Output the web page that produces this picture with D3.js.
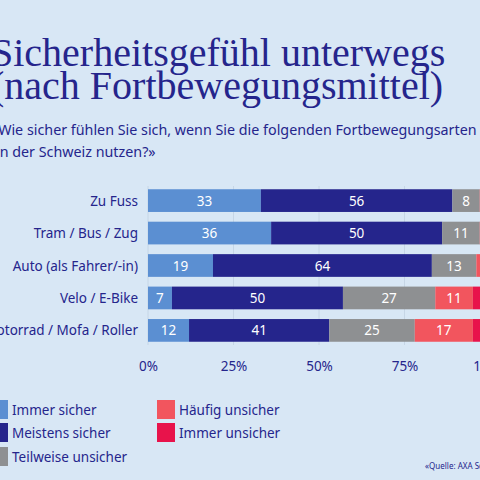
<!DOCTYPE html>
<html><head><meta charset="utf-8">
<script src="https://cdn.jsdelivr.net/npm/d3@7"></script>
<style>body{margin:0;background:#d8e7f5;overflow:hidden}</style>
</head><body>
<script>
const categories = ['Zu Fuss', 'Tram / Bus / Zug', 'Auto (als Fahrer/-in)', 'Velo / E-Bike', 'Motorrad / Mofa / Roller'];
const series = ['Immer sicher', 'Meistens sicher', 'Teilweise unsicher', 'Häufig unsicher', 'Immer unsicher'];
const immerSicher = [33, 36, 19, 7, 12];
const meistensSicher = [56, 50, 64, 50, 41];
const teilweiseUnsicher = [8, 11, 13, 27, 25];
const haeufigUnsicher = [2, 2, 3, 11, 17];
const immerUnsicher = [1, 1, 1, 5, 5];
const ticks = [0, 25, 50, 75, 100];
const colors = ['#5b8fd2', '#25258c', '#8e9092', '#f2555e', '#e8134b'];

const rows = categories.map((c, i) => ({ cat: c, vals: [immerSicher[i], meistensSicher[i], teilweiseUnsicher[i], haeufigUnsicher[i], immerUnsicher[i]] }));

const svg = d3.select('body').append('svg').attr('width', 480).attr('height', 480);
const ink = '#25258c';

svg.append('text').attr('x', -9).attr('y', 66).attr('font-family', 'Liberation Serif, serif').attr('font-size', 40).attr('fill', ink).text('Sicherheitsgefühl unterwegs');
svg.append('text').attr('x', -9).attr('y', 99).attr('font-family', 'Liberation Serif, serif').attr('font-size', 40).attr('fill', ink).text('(nach Fortbewegungsmittel)');
svg.append('text').attr('x', -9).attr('y', 135).attr('font-family', 'Noto Sans').attr('font-size', 14.3).attr('fill', ink).text('«Wie sicher fühlen Sie sich, wenn Sie die folgenden Fortbewegungsarten');
svg.append('text').attr('x', -4).attr('y', 157).attr('font-family', 'Noto Sans').attr('font-size', 14.3).attr('fill', ink).text('in der Schweiz nutzen?»');

const x = d3.scaleLinear().domain([0, 100]).range([148, 490]);
const y = d3.scaleBand().domain(categories).range([186, 345]).paddingInner(0.3).paddingOuter(0.1);

const g = svg.append('g');
g.selectAll('.grid').data(ticks).enter().append('line')
  .attr('x1', d => x(d)).attr('x2', d => x(d)).attr('y1', 186).attr('y2', 345)
  .attr('stroke', '#c6d6e6').attr('stroke-width', 1);

rows.forEach(r => {
  let acc = 0;
  r.vals.forEach((v, j) => {
    const x0 = x(acc); acc += v;
    g.append('rect').attr('x', x0).attr('y', y(r.cat)).attr('width', x(acc) - x0).attr('height', y.bandwidth()).attr('fill', colors[j]);
    if (v >= 7) g.append('text').attr('x', (x0 + x(acc)) / 2).attr('y', y(r.cat) + y.bandwidth() / 2 + 5)
      .attr('text-anchor', 'middle').attr('font-family', 'Noto Sans').attr('font-size', 13.5).attr('fill', '#fff').text(v);
  });
  g.append('text').attr('x', 138).attr('y', y(r.cat) + y.bandwidth() / 2 + 5).attr('text-anchor', 'end')
    .attr('font-family', 'Noto Sans').attr('font-size', 13.5).attr('fill', ink).text(r.cat);
});

const axis = g.append('g').attr('transform', 'translate(0,358)')
  .call(d3.axisBottom(x).tickValues(ticks).tickFormat(d => d + '%').tickSize(0));
axis.select('.domain').remove();
axis.selectAll('text').attr('font-family', 'Noto Sans').attr('font-size', 13.5).attr('fill', ink);

const legend = [[0, -10, 410], [1, -10, 433], [2, -10, 457], [3, 157, 410], [4, 157, 433]];
legend.forEach(([i, lx, ly]) => {
  svg.append('rect').attr('x', lx).attr('y', ly - 10).attr('width', 18).attr('height', 19).attr('fill', colors[i]);
  svg.append('text').attr('x', lx + 22).attr('y', ly + 5).attr('font-family', 'Noto Sans').attr('font-size', 13.5).attr('fill', ink).text(series[i]);
});
svg.append('text').attr('x', 425).attr('y', 469).attr('font-family', 'Noto Sans').attr('font-size', 8).attr('fill', ink).text('«Quelle: AXA Schweiz»');
</script>
</body></html>
